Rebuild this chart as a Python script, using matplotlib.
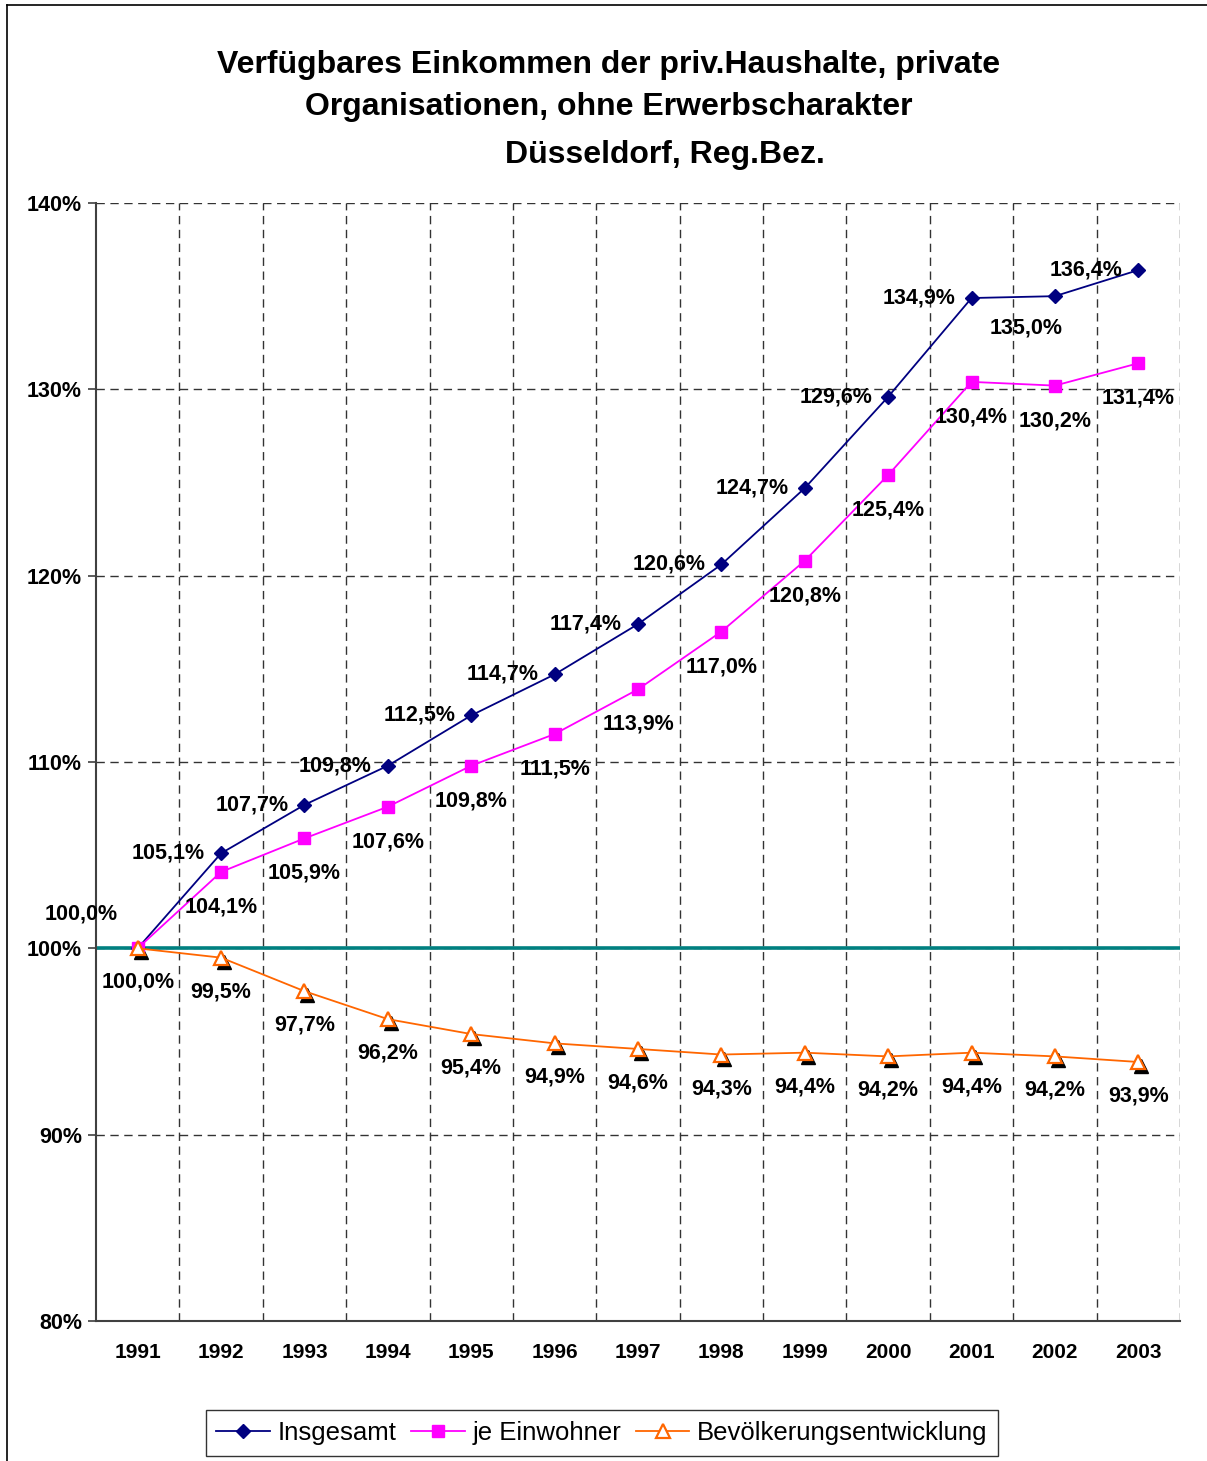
import matplotlib
matplotlib.use("Agg")
import matplotlib.pyplot as plt
from matplotlib.lines import Line2D
from matplotlib.transforms import offset_copy
import numpy as np

plt.rcParams['font.family'] = ['Liberation Sans', 'DejaVu Sans']

years = ['1991', '1992', '1993', '1994', '1995', '1996', '1997',
         '1998', '1999', '2000', '2001', '2002', '2003']
insgesamt = [100.0, 105.1, 107.7, 109.8, 112.5, 114.7, 117.4,
             120.6, 124.7, 129.6, 134.9, 135.0, 136.4]
je_einwohner = [100.0, 104.1, 105.9, 107.6, 109.8, 111.5, 113.9,
                117.0, 120.8, 125.4, 130.4, 130.2, 131.4]
bevoelkerung = [100.0, 99.5, 97.7, 96.2, 95.4, 94.9, 94.6,
                94.3, 94.4, 94.2, 94.4, 94.2, 93.9]
y_ticks = [80, 90, 100, 110, 120, 130, 140]
series_names = ['Insgesamt', 'je Einwohner', 'Bevölkerungsentwicklung']

W, H = 1207, 1461
fig = plt.figure(figsize=(W / 100, H / 100), dpi=100)
ax = fig.add_axes([96 / W, 1 - 1321 / H, (1180 - 96) / W, (1321 - 203) / H])

x = np.arange(len(years))


def fmt(v):
    return f"{v:.1f}%".replace('.', ',')


# grid: dashed lines between categories and at every 10 %
ax.set_xlim(-0.5, len(years) - 0.5)
ax.set_ylim(80, 140)
ax.set_xticks(x)
ax.set_xticklabels(years, fontsize=15, fontweight='bold')
ax.set_xticks(np.arange(len(years)) + 0.5, minor=True)
ax.set_yticks(y_ticks)
ax.set_yticklabels([f"{t}%" for t in y_ticks], fontsize=15.5, fontweight='bold')
ax.tick_params(axis='x', which='both', length=0, pad=16)
ax.tick_params(axis='y', length=6, width=1.2, color='#404040', pad=4)
ax.grid(True, axis='x', which='minor', color='#333333', lw=1,
        linestyle=(0, (6, 4)))
ax.grid(True, axis='y', which='major', color='#333333', lw=1,
        linestyle=(0, (6, 4)))
ax.spines['top'].set_visible(False)
ax.spines['right'].set_visible(False)
ax.spines['left'].set_color('#404040')
ax.spines['bottom'].set_color('#404040')
ax.spines['left'].set_linewidth(1.5)
ax.spines['bottom'].set_linewidth(1.5)
ax.set_axisbelow(True)

# reference line at 100 %
ax.axhline(100, color='#008080', lw=2.6, zorder=2)

l1, = ax.plot(x, insgesamt, color='#000080', lw=1.3, marker='D', ms=7.5,
              mfc='#000080', mec='#000080', zorder=4, label=series_names[0])
l2, = ax.plot(x, je_einwohner, color='#FF00FF', lw=1.3, marker='s', ms=8,
              mfc='#FF00FF', mec='#FF00FF', zorder=4, label=series_names[1])
# shadow under the triangle markers
shadow = offset_copy(ax.transData, fig=fig, x=3, y=-4, units='dots')
ax.plot(x, bevoelkerung, linestyle='none', marker='^', ms=10, mfc='black',
        mec='black', transform=shadow, zorder=3)
l3, = ax.plot(x, bevoelkerung, color='#FF6600', lw=1.3, marker='^', ms=10,
              mfc='white', mec='#FF6600', mew=1.6, zorder=5,
              label=series_names[2])

lab_kw = dict(textcoords='offset pixels', fontsize=15.5, fontweight='bold',
              zorder=6)

# labels for Insgesamt
for i, v in enumerate(insgesamt):
    if i == 0:
        ax.annotate(fmt(v), (x[i], v), xytext=(-57, 34), ha='center',
                    va='center', **lab_kw)
    elif i == 11:
        ax.annotate(fmt(v), (x[i], v), xytext=(-29, -32), ha='center',
                    va='center', **lab_kw)
    else:
        ax.annotate(fmt(v), (x[i], v), xytext=(-16, 0), ha='right',
                    va='center', **lab_kw)

# labels for je Einwohner
for i, v in enumerate(je_einwohner):
    if i == 0:
        continue
    ax.annotate(fmt(v), (x[i], v), xytext=(0, -35), ha='center',
                va='center', **lab_kw)

# labels for Bevölkerungsentwicklung
for i, v in enumerate(bevoelkerung):
    ax.annotate(fmt(v), (x[i], v), xytext=(0, -34), ha='center',
                va='center', **lab_kw)

# title
title_kw = dict(fontsize=23, fontweight='bold', ha='center', va='center')
fig.text(609 / W, 1 - 65 / H, 'Verfügbares Einkommen der priv.Haushalte, private',
         **title_kw)
fig.text(609 / W, 1 - 107 / H, 'Organisationen, ohne Erwerbscharakter',
         **title_kw)
fig.text(665 / W, 1 - 155 / H, 'Düsseldorf, Reg.Bez.', **title_kw)

# legend
leg = fig.legend(handles=[l1, l2, l3], loc='center',
                 bbox_to_anchor=(602 / W, 1 - 1433 / H), ncol=3,
                 fontsize=18.5, frameon=True, fancybox=False, edgecolor='black',
                 handlelength=2.1, handletextpad=0.3, columnspacing=0.55,
                 borderpad=0.42, borderaxespad=0)
leg.get_frame().set_linewidth(1.0)

# outer chart border
fig.add_artist(Line2D([7 / W, 7 / W], [0, 1 - 5 / H], color='black', lw=1.2,
                      transform=fig.transFigure))
fig.add_artist(Line2D([7 / W, 1], [1 - 5 / H, 1 - 5 / H], color='black',
                      lw=1.2, transform=fig.transFigure))

fig.savefig('out.png', dpi=100)
